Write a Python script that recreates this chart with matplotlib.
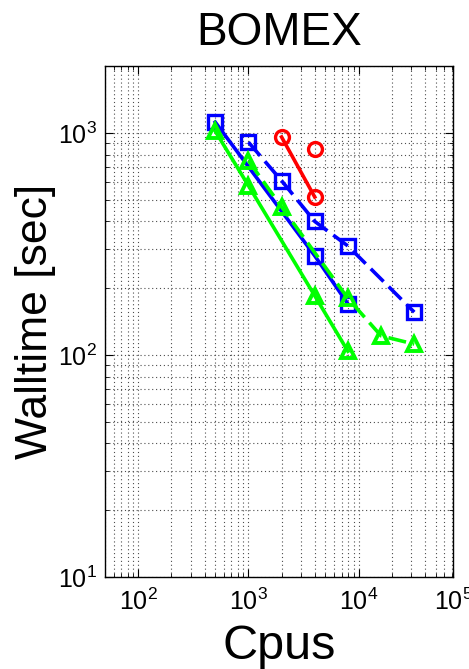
import matplotlib
matplotlib.use("Agg")
import matplotlib.pyplot as plt
from matplotlib.ticker import LogLocator, NullFormatter

plt.rcParams['font.family'] = ['Liberation Sans', 'DejaVu Sans']
plt.rcParams['mathtext.fontset'] = 'custom'
plt.rcParams['mathtext.rm'] = 'Liberation Sans'
plt.rcParams['mathtext.it'] = 'Liberation Sans'

# wall time vs. number of cpus, BOMEX case
cpus_blue_solid = [500, 4000, 8000]
time_blue_solid = [1120, 280, 170]

cpus_blue_dash = [1000, 2000, 4000, 8000, 32000]
time_blue_dash = [910, 610, 400, 310, 156]

cpus_red = [2000, 4000]
time_red = [960, 515]

cpus_red_single = [4000]
time_red_single = [850]

cpus_green_solid = [500, 1000, 4000, 8000]
time_green_solid = [1020, 580, 185, 104]

cpus_green_dash = [1000, 2000, 8000, 16000, 32000]
time_green_dash = [750, 465, 180, 122, 112]

xtick_vals = [1e2, 1e3, 1e4, 7.2e4]
xtick_labels = ['$10^{2}$', '$10^{3}$', '$10^{4}$', '$10^{5}$']
ytick_vals = [1e1, 1e2, 1e3]
ytick_labels = ['$10^{1}$', '$10^{2}$', '$10^{3}$']

fig = plt.figure(figsize=(4.69, 6.69), dpi=100)
ax = fig.add_axes([0.224, 0.1375, 0.742, 0.7635])

lw = 2.6
ms = 10
mew = 2.4
blue = (0, 0, 1)
green = (0, 1, 0)
red = (1, 0, 0)
dash = (5, 2)

ax.plot(cpus_blue_solid, time_blue_solid, '-', color=blue, lw=lw,
        marker='s', ms=ms, mfc='none', mew=mew)
ax.plot(cpus_blue_dash, time_blue_dash, '--', color=blue, lw=lw, dashes=dash,
        marker='s', ms=ms, mfc='none', mew=mew)
ax.plot(cpus_red, time_red, '-', color=red, lw=lw,
        marker='o', ms=ms, mfc='none', mew=mew)
ax.plot(cpus_red_single, time_red_single, 'none', color=red,
        marker='o', ms=ms, mfc='none', mew=mew)
ax.plot(cpus_green_solid, time_green_solid, '-', color=green, lw=lw,
        marker='^', ms=ms, mfc='none', mew=2.8)
ax.plot(cpus_green_dash, time_green_dash, '--', color=green, lw=lw, dashes=dash,
        marker='^', ms=ms, mfc='none', mew=2.8)

ax.set_xscale('log')
ax.set_yscale('log')
ax.set_xlim(50, 7.2e4)
ax.set_ylim(10, 2000)

ax.set_xticks(xtick_vals)
ax.set_xticklabels(xtick_labels)
ax.set_yticks(ytick_vals)
ax.set_yticklabels(ytick_labels)
ax.xaxis.set_minor_locator(LogLocator(base=10, subs=range(2, 10), numticks=20))
ax.yaxis.set_minor_locator(LogLocator(base=10, subs=range(2, 10), numticks=20))
ax.xaxis.set_minor_formatter(NullFormatter())
ax.yaxis.set_minor_formatter(NullFormatter())

ax.tick_params(which='both', direction='in', top=True, right=True, labelsize=18)
ax.tick_params(which='major', length=6, width=0.8)
ax.tick_params(which='minor', length=3, width=0.6)
ax.tick_params(axis='x', pad=8)
ax.tick_params(axis='y', pad=6)

ax.grid(True, which='both', linestyle=(0, (1, 2.5)), color='0.3', linewidth=0.8)
ax.set_axisbelow(True)
for sp in ax.spines.values():
    sp.set_linewidth(1.0)

ax.set_title('BOMEX', fontsize=33, pad=15)
ax.set_xlabel('Cpus', fontsize=35, labelpad=7)
ax.set_ylabel('Walltime [sec]', fontsize=32, labelpad=1)

fig.savefig('out.png', dpi=100)
